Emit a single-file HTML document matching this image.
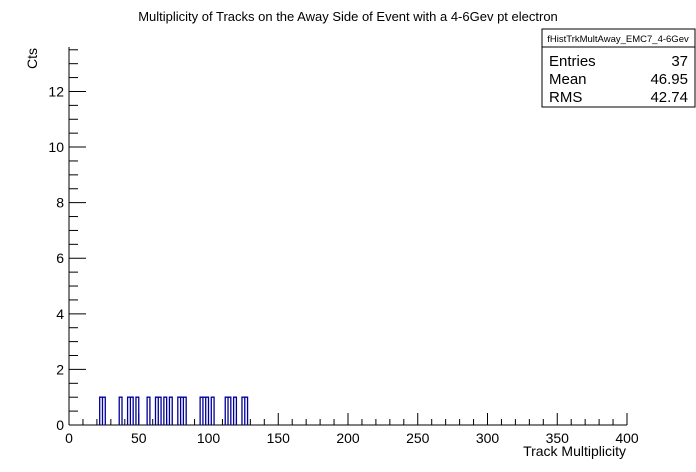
<!DOCTYPE html>
<html><head><meta charset="utf-8"><style>
body{margin:0;background:#fff;}
svg{display:block;font-family:"Liberation Sans",sans-serif;}
</style></head><body>
<svg width="696" height="472" viewBox="0 0 696 472">
<rect width="696" height="472" fill="#fff"/>
<text x="348" y="21" font-size="13" text-anchor="middle">Multiplicity of Tracks on the Away Side of Event with a 4-6Gev pt electron</text>
<g id="axes"></g>
<path id="hist" fill="none" stroke="#000099" stroke-width="1.3"/>
<text x="626" y="456" font-size="14" text-anchor="end">Track Multiplicity</text>
<text transform="translate(37,69) rotate(-90)" font-size="14" text-anchor="start">Cts</text>
<g>
<rect x="542" y="29" width="153" height="78" fill="#fff" stroke="#000" stroke-width="1"/>
<line x1="542" y1="47" x2="695" y2="47" stroke="#000"/>
<text x="618" y="42" font-size="9.5" text-anchor="middle">fHistTrkMultAway_EMC7_4-6Gev</text>
<text x="549" y="66" font-size="15">Entries</text><text x="688" y="66" font-size="15" text-anchor="end">37</text>
<text x="549" y="84" font-size="15">Mean</text><text x="688" y="84" font-size="15" text-anchor="end">46.95</text>
<text x="549" y="102" font-size="15">RMS</text><text x="688" y="102" font-size="15" text-anchor="end">42.74</text>
</g>
</svg>
<script>
const binStarts=[22,24,36,42,44,48,56,62,64,68,72,78,80,82,94,96,98,102,112,114,118,124,126];
const binCounts=[1,1,1,1,1,1,1,1,1,1,1,1,1,1,1,1,1,1,1,1,1,1,1];
const binWidth=2;
const xTicks=[0,50,100,150,200,250,300,350,400];
const yTicks=[0,2,4,6,8,10,12];
const X0=69,X1=627,Y0=425,YT=47,xmax=400,ymax=13.6;
const sx=v=>X0+(X1-X0)*v/xmax;
const sy=v=>Y0-(Y0-YT)*v/ymax;
const ns="http://www.w3.org/2000/svg";
const ax=document.getElementById('axes');
function ln(x1,y1,x2,y2,name){const l=document.createElementNS(ns,'line');
l.setAttribute('x1',x1);l.setAttribute('y1',y1);l.setAttribute('x2',x2);l.setAttribute('y2',y2);
l.setAttribute('stroke','#000');l.setAttribute('stroke-width','1');


ax.appendChild(l);}
function tx(x,y,s,anchor,name){const t=document.createElementNS(ns,'text');
t.setAttribute('x',x);t.setAttribute('y',y);t.setAttribute('font-size','14');t.setAttribute('text-anchor',anchor);t.textContent=s;


ax.appendChild(t);}
ln(X0,Y0,X1,Y0,'x-axis-line');
ln(X0,Y0,X0,YT,'y-axis-line');
for(let v=0;v<=xmax;v+=10){const major=v%50===0;ln(sx(v),Y0,sx(v),Y0-(major?12:6),'x-tick');}
xTicks.forEach(v=>tx(sx(v),443,String(v),'middle','x-tick-label'));
for(let v=0;v<=ymax;v+=0.5){const major=Math.abs(v%2)<1e-9;ln(X0,sy(v),X0+(major?17:9),sy(v),'y-tick');}
yTicks.forEach(v=>tx(X0-5,sy(v)+5,String(v),'end','y-tick-label'));
// build histogram outline
let d='';
binStarts.forEach((s,i)=>{const c=binCounts[i];
const xa=sx(s),xb=sx(s+binWidth),yt=sy(c);
d+=`M${xa},${Y0}L${xa},${yt}L${xb},${yt}L${xb},${Y0}`;});
document.getElementById('hist').setAttribute('d',d);
</script>
</body></html>
